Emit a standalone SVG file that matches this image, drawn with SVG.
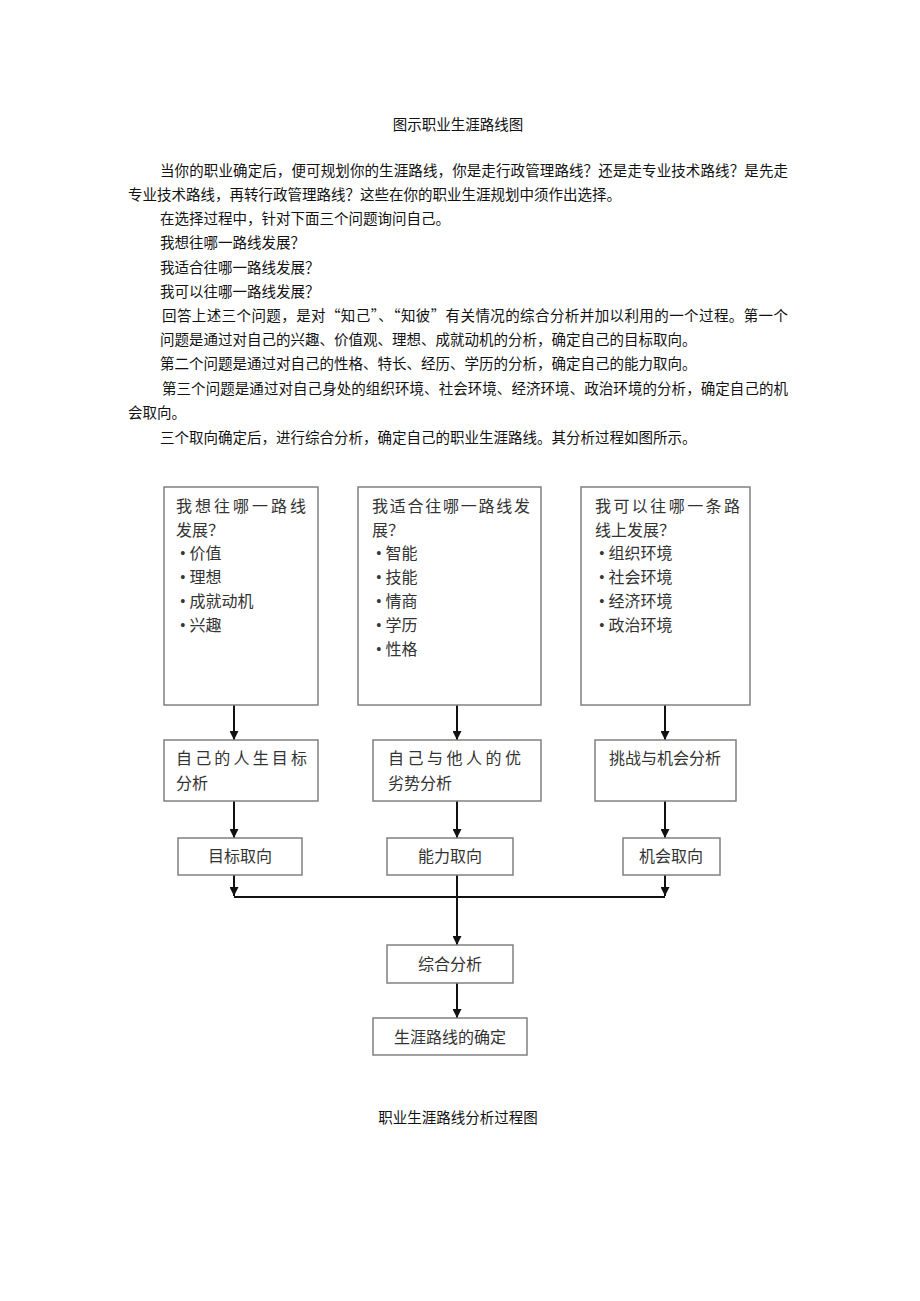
<svg xmlns="http://www.w3.org/2000/svg" width="920" height="1301" viewBox="0 0 920 1301">
<style>
.p{font-family:"Noto Sans CJK SC","Liberation Sans",sans-serif;font-size:14.5px;fill:#111}
.t{font-family:"Liberation Serif","Noto Sans CJK SC",serif;font-size:16px;fill:#333}
.box{fill:#fff;stroke:#808080;stroke-width:1.5}
.ln{stroke:#111;stroke-width:2;fill:none}
</style>
<defs>
<marker id="ah" viewBox="0 0 10 10" refX="10" refY="5" markerWidth="9" markerHeight="9" markerUnits="userSpaceOnUse" orient="auto">
<path d="M0,0 L10,5 L0,10 z" fill="#111"/>
</marker>
</defs>
<rect width="920" height="1301" fill="#fff"/>
<g id="text">
<text class="p" x="458" y="130" text-anchor="middle">图示职业生涯路线图</text>
<text class="p" x="160" y="176" textLength="628" lengthAdjust="spacing">当你的职业确定后，便可规划你的生涯路线，你是走行政管理路线？还是走专业技术路线？是先走</text>
<text class="p" x="128" y="200">专业技术路线，再转行政管理路线？这些在你的职业生涯规划中须作出选择。</text>
<text class="p" x="160" y="224">在选择过程中，针对下面三个问题询问自己。</text>
<text class="p" x="160" y="248">我想往哪一路线发展？</text>
<text class="p" x="160" y="273">我适合往哪一路线发展？</text>
<text class="p" x="160" y="297">我可以往哪一路线发展？</text>
<text class="p" x="162" y="321" textLength="626" lengthAdjust="spacing">回答上述三个问题，是对“知己”、“知彼”有关情况的综合分析并加以利用的一个过程。第一个</text>
<text class="p" x="160" y="345">问题是通过对自己的兴趣、价值观、理想、成就动机的分析，确定自己的目标取向。</text>
<text class="p" x="160" y="369">第二个问题是通过对自己的性格、特长、经历、学历的分析，确定自己的能力取向。</text>
<text class="p" x="162" y="394" textLength="626" lengthAdjust="spacing">第三个问题是通过对自己身处的组织环境、社会环境、经济环境、政治环境的分析，确定自己的机</text>
<text class="p" x="128" y="418">会取向。</text>
<text class="p" x="160" y="443">三个取向确定后，进行综合分析，确定自己的职业生涯路线。其分析过程如图所示。</text>
<text class="p" x="458" y="1123" text-anchor="middle">职业生涯路线分析过程图</text>
</g>
<g id="connectors">
<line class="ln" x1="234" y1="705" x2="234" y2="740" marker-end="url(#ah)"/>
<line class="ln" x1="457" y1="705" x2="457" y2="740" marker-end="url(#ah)"/>
<line class="ln" x1="665" y1="705" x2="665" y2="740" marker-end="url(#ah)"/>
<line class="ln" x1="234" y1="801" x2="234" y2="838" marker-end="url(#ah)"/>
<line class="ln" x1="457" y1="801" x2="457" y2="838" marker-end="url(#ah)"/>
<line class="ln" x1="665" y1="801" x2="665" y2="838" marker-end="url(#ah)"/>
<line class="ln" x1="234" y1="875" x2="234" y2="896" marker-end="url(#ah)"/>
<line class="ln" x1="665" y1="875" x2="665" y2="896" marker-end="url(#ah)"/>
<polyline class="ln" points="234,897 665,897"/>
<line class="ln" x1="457" y1="875" x2="457" y2="945" marker-end="url(#ah)"/>
<line class="ln" x1="457" y1="983" x2="457" y2="1018" marker-end="url(#ah)"/>
</g>
<g id="n1">
<rect class="box" x="164" y="487" width="154" height="218"/>
<text class="t" x="176" y="512" textLength="130" lengthAdjust="spacing">我想往哪一路线</text>
<text class="t" x="176" y="536">发展？</text>
<text class="t" x="180" y="559">• 价值</text>
<text class="t" x="180" y="583">• 理想</text>
<text class="t" x="180" y="607">• 成就动机</text>
<text class="t" x="180" y="631">• 兴趣</text>
</g>
<g id="n2">
<rect class="box" x="358" y="487" width="183" height="218"/>
<text class="t" x="372" y="512" textLength="158" lengthAdjust="spacing">我适合往哪一路线发</text>
<text class="t" x="372" y="536">展？</text>
<text class="t" x="376" y="559">• 智能</text>
<text class="t" x="376" y="583">• 技能</text>
<text class="t" x="376" y="607">• 情商</text>
<text class="t" x="376" y="631">• 学历</text>
<text class="t" x="376" y="655">• 性格</text>
</g>
<g id="n3">
<rect class="box" x="581" y="487" width="169" height="218"/>
<text class="t" x="595" y="512" textLength="145" lengthAdjust="spacing">我可以往哪一条路</text>
<text class="t" x="595" y="536">线上发展？</text>
<text class="t" x="599" y="559">• 组织环境</text>
<text class="t" x="599" y="583">• 社会环境</text>
<text class="t" x="599" y="607">• 经济环境</text>
<text class="t" x="599" y="631">• 政治环境</text>
</g>
<g id="n4">
<rect class="box" x="164" y="740" width="154" height="61"/>
<text class="t" x="176" y="764" textLength="131" lengthAdjust="spacing">自己的人生目标</text>
<text class="t" x="176" y="789">分析</text>
</g>
<g id="n5">
<rect class="box" x="373" y="740" width="168" height="61"/>
<text class="t" x="388" y="764" textLength="133" lengthAdjust="spacing">自己与他人的优</text>
<text class="t" x="388" y="789">劣势分析</text>
</g>
<g id="n6">
<rect class="box" x="595" y="740" width="141" height="61"/>
<text class="t" x="609" y="764">挑战与机会分析</text>
</g>
<g id="n7">
<rect class="box" x="178" y="838" width="124" height="37"/>
<text class="t" x="240" y="862" text-anchor="middle">目标取向</text>
</g>
<g id="n8">
<rect class="box" x="387" y="838" width="126" height="37"/>
<text class="t" x="450" y="862" text-anchor="middle">能力取向</text>
</g>
<g id="n9">
<rect class="box" x="623" y="838" width="97" height="37"/>
<text class="t" x="671" y="862" text-anchor="middle">机会取向</text>
</g>
<g id="n10">
<rect class="box" x="387" y="945" width="126" height="38"/>
<text class="t" x="450" y="970" text-anchor="middle">综合分析</text>
</g>
<g id="n11">
<rect class="box" x="373" y="1018" width="154" height="37"/>
<text class="t" x="450" y="1043" text-anchor="middle">生涯路线的确定</text>
</g>
</svg>
